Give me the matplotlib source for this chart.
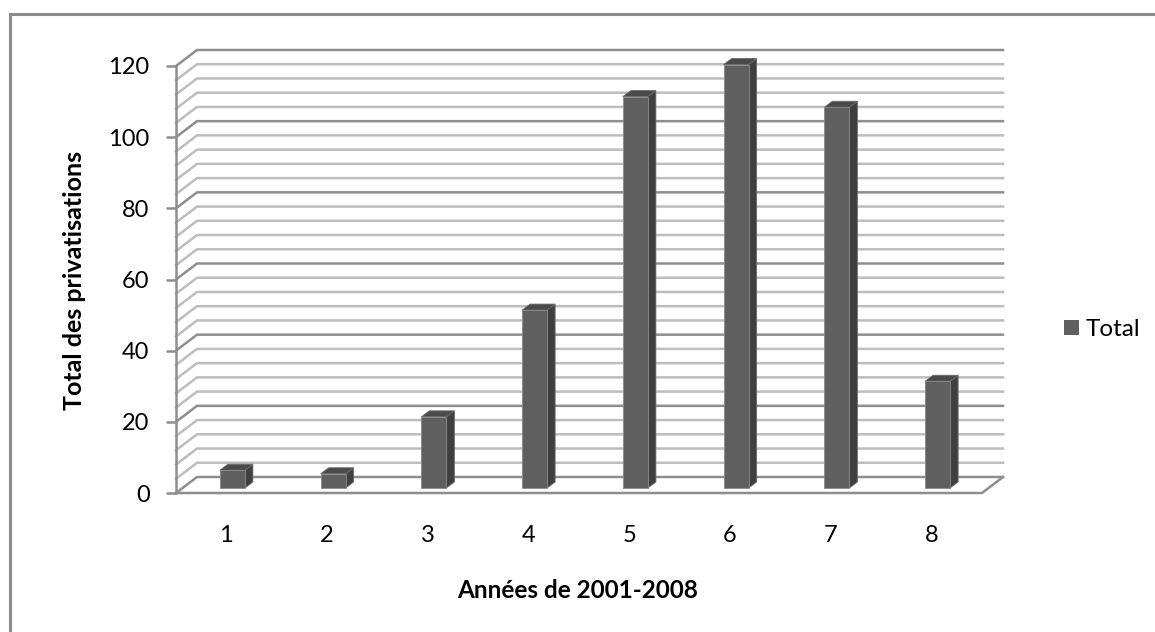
import matplotlib
matplotlib.use("Agg")
import matplotlib.pyplot as plt
from matplotlib.patches import Polygon, Rectangle

plt.rcParams['font.family'] = ['Lato', 'DejaVu Sans']

categories = [1, 2, 3, 4, 5, 6, 7, 8]
values = [5, 4, 20, 50, 110, 119, 107, 30]
major_ticks = [0, 20, 40, 60, 80, 100, 120]
minor_ticks = [4, 8, 12, 16, 24, 28, 32, 36, 44, 48, 52, 56, 64, 68, 72, 76,
               84, 88, 92, 96, 104, 108, 112, 116]

W, H = 1155, 632
major_col = "#8e8e8e"
minor_col = "#bdbdbd"
front_col = "#5f5f5f"
side_col = "#3f3f3f"
top_col = "#4a4a4a"

fig = plt.figure(figsize=(W / 100, H / 100), dpi=100)
fig.patch.set_facecolor("white")
# only the top and left edges of the frame are in the picture
fig.add_artist(plt.Line2D([9.5 / W, 9.5 / W, 1], [0, 1 - 13.5 / H, 1 - 13.5 / H],
                          transform=fig.transFigure, color="#8c8c8c", lw=2.2,
                          solid_joinstyle="miter"))

# front plane of the 3d box is the real axes
left, right, bottom, top = 176, 982, 493, 66
ax = fig.add_axes([left / W, 1 - bottom / H, (right - left) / W, (bottom - top) / H])
ax.set_xlim(0.5, 8.5)
ax.set_ylim(0, 120)
ax.patch.set_alpha(0)
for s in ax.spines.values():
    s.set_visible(False)

px_x = (right - left) / 8
px_y = (bottom - top) / 120
# depth of the box, bar depth and gap, in data units
dx, dy = 21 / px_x, 16 / px_y
bar_dx, bar_dy = 8 / px_x, 6 / px_y
off_x, off_y = 6 / px_x, 5 / px_y
bar_w = 25 / px_x


def wall_line(y, col, lw):
    ax.plot([0.5, 0.5 + dx, 8.5 + dx], [y, y + dy, y + dy], color=col, lw=lw,
            clip_on=False, solid_joinstyle="miter", zorder=1)


for y in minor_ticks:
    wall_line(y, minor_col, 1.8)
for y in major_ticks:
    wall_line(y, major_col, 1.8)

# floor and axis edges
ax.plot([0.5, 8.5, 8.5 + dx], [0, 0, dy], color=major_col, lw=1.8, clip_on=False, zorder=1)
ax.plot([0.5, 0.5], [0, 120], color=major_col, lw=1.8, clip_on=False, zorder=1)

for c, v in zip(categories, values):
    x0 = c + off_x - bar_w / 2
    x1 = c + off_x + bar_w / 2
    y0 = off_y
    y1 = off_y + v
    ax.add_patch(Polygon([(x1, y0), (x1 + bar_dx, y0 + bar_dy), (x1 + bar_dx, y1 + bar_dy), (x1, y1)],
                         facecolor=side_col, edgecolor="#6a6a6a", lw=0.6, clip_on=False, zorder=3))
    ax.add_patch(Polygon([(x0, y1), (x0 + bar_dx, y1 + bar_dy), (x1 + bar_dx, y1 + bar_dy), (x1, y1)],
                         facecolor=top_col, edgecolor="#6a6a6a", lw=0.6, clip_on=False, zorder=3))
    ax.bar(x0, v, width=bar_w, bottom=y0, align="edge", color=front_col, edgecolor="#8a8a8a",
           linewidth=0.6, clip_on=False, zorder=4)

ax.set_xticks(categories)
ax.set_xticklabels(categories)
ax.set_yticks(major_ticks)
ax.tick_params(axis="x", length=0, pad=23, labelsize=17, colors="black")
ax.tick_params(axis="y", length=7, width=1.8, color=major_col, pad=12, labelsize=17, labelcolor="black")

fig.text(75 / W, 1 - 280 / H, "Total des privatisations", rotation=90, ha="center", va="center",
         fontsize=18, fontweight="bold")
fig.text(578 / W, 1 - 590 / H, "Années de 2001-2008", ha="center", va="center",
         fontsize=17.5, fontweight="bold")

# legend
fig.add_artist(Rectangle((1064 / W, 1 - 335 / H), 15 / W, 15 / H, transform=fig.transFigure,
                         facecolor=front_col, edgecolor="none"))
fig.text(1086 / W, 1 - 329 / H, "Total", ha="left", va="center", fontsize=17.5)

fig.savefig("out.png", dpi=100)
